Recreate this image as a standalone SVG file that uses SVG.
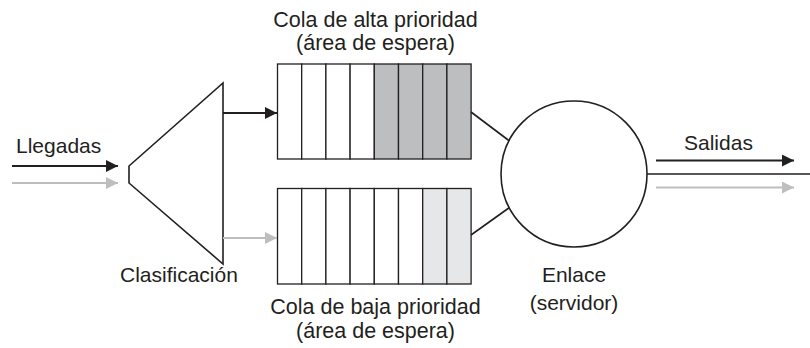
<svg xmlns="http://www.w3.org/2000/svg" width="810" height="348" viewBox="0 0 810 348">
<defs>
<marker id="ab" markerUnits="userSpaceOnUse" markerWidth="14" markerHeight="12" refX="12" refY="6" orient="auto"><path d="M0,0 L12,6 L0,12 Z" fill="#231f20"/></marker>
<marker id="ag" markerUnits="userSpaceOnUse" markerWidth="14" markerHeight="12" refX="12" refY="6" orient="auto"><path d="M0,0 L12,6 L0,12 Z" fill="#bcbec0"/></marker>
</defs>
<style>
text{font-family:"Liberation Sans",Arial,sans-serif;font-size:21px;fill:#231f20}
.q{font-size:21.5px}
.c{stroke:#231f20;stroke-width:1.3;fill:#fff}
.g{fill:#bcbec0}
.l{fill:#e6e7e8}
.k{stroke:#231f20;stroke-width:2;fill:none}
.kg{stroke:#bcbec0;stroke-width:2;fill:none}
.s{stroke:#231f20;stroke-width:1.6;fill:none}
</style>
<rect width="810" height="348" fill="#fff"/>
<g id="clasificacion">
<path d="M129,166 L223,83 L223,264 L129,183 Z" class="s"/>
<text x="120" y="281.5">Clasificación</text>
</g>
<g id="cola-alta">
<rect x="277.5" y="64" width="24.2" height="95" class="c"/>
<rect x="301.7" y="64" width="24.2" height="95" class="c"/>
<rect x="325.9" y="64" width="24.2" height="95" class="c"/>
<rect x="350.1" y="64" width="24.2" height="95" class="c"/>
<rect x="374.3" y="64" width="24.2" height="95" class="c g"/>
<rect x="398.5" y="64" width="24.2" height="95" class="c g"/>
<rect x="422.7" y="64" width="24.2" height="95" class="c g"/>
<rect x="446.9" y="64" width="24.2" height="95" class="c g"/>
<text class="q" x="375.5" y="26.5" text-anchor="middle">Cola de alta prioridad</text>
<text class="q" x="375.5" y="50" text-anchor="middle">(área de espera)</text>
</g>
<g id="cola-baja">
<rect x="277.5" y="188.5" width="24.2" height="95.5" class="c"/>
<rect x="301.7" y="188.5" width="24.2" height="95.5" class="c"/>
<rect x="325.9" y="188.5" width="24.2" height="95.5" class="c"/>
<rect x="350.1" y="188.5" width="24.2" height="95.5" class="c"/>
<rect x="374.3" y="188.5" width="24.2" height="95.5" class="c"/>
<rect x="398.5" y="188.5" width="24.2" height="95.5" class="c"/>
<rect x="422.7" y="188.5" width="24.2" height="95.5" class="c l"/>
<rect x="446.9" y="188.5" width="24.2" height="95.5" class="c l"/>
<text class="q" x="375.5" y="314" text-anchor="middle">Cola de baja prioridad</text>
<text class="q" x="375.5" y="338" text-anchor="middle">(área de espera)</text>
</g>
<g id="enlace">
<circle cx="574" cy="174" r="73" class="s"/>
<text x="574" y="281.5" text-anchor="middle">Enlace</text>
<text x="574" y="309.5" text-anchor="middle">(servidor)</text>
</g>
<g id="llegadas">
<text x="16" y="153">Llegadas</text>
</g>
<g id="salidas">
<text x="684" y="150">Salidas</text>
</g>
<g id="connectors">
<line x1="12" y1="166" x2="118" y2="166" class="k" marker-end="url(#ab)"/>
<line x1="12" y1="183" x2="118" y2="183" class="kg" marker-end="url(#ag)"/>
<line x1="223" y1="113" x2="277" y2="113" class="k" marker-end="url(#ab)"/>
<line x1="223" y1="238" x2="277" y2="238" class="kg" marker-end="url(#ag)"/>
<line x1="471" y1="112" x2="509.5" y2="141" class="s"/>
<line x1="471" y1="235" x2="509.5" y2="207.5" class="s"/>
<line x1="647" y1="174" x2="810" y2="174" class="s"/>
<line x1="656" y1="160.5" x2="794" y2="160.5" class="k" marker-end="url(#ab)"/>
<line x1="656" y1="187.5" x2="794" y2="187.5" class="kg" marker-end="url(#ag)"/>
</g>
</svg>
